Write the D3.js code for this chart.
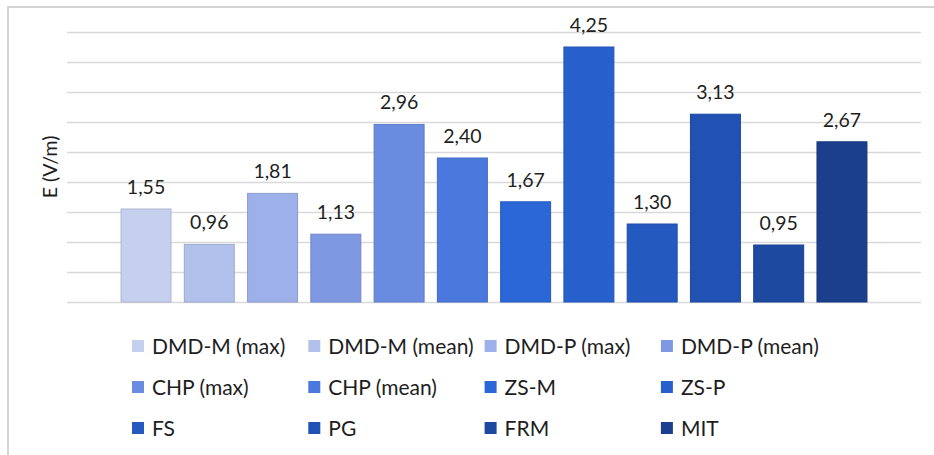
<!DOCTYPE html>
<html>
<head>
<meta charset="utf-8">
<script src="https://cdn.jsdelivr.net/npm/d3@7"></script>
<style>
  html, body { margin: 0; padding: 0; background: #fff; }
  svg { display: block; font-family: Lato, "Open Sans", sans-serif; }
</style>
</head>
<body>
<svg id="chart" width="934" height="455"></svg>
<script>
const categories = ["DMD-M (max)", "DMD-M (mean)", "DMD-P (max)", "DMD-P (mean)",
  "CHP (max)", "CHP (mean)", "ZS-M", "ZS-P", "FS", "PG", "FRM", "MIT"];
const values = [1.55, 0.96, 1.81, 1.13, 2.96, 2.40, 1.67, 4.25, 1.30, 3.13, 0.95, 2.67];
const valueLabels = ["1,55", "0,96", "1,81", "1,13", "2,96", "2,40", "1,67", "4,25", "1,30", "3,13", "0,95", "2,67"];
const colors = ["#C5D0EF", "#B2C1EC", "#9EB0E9", "#7F98E2", "#6A8CE0", "#4A78DC",
  "#2B67D6", "#2660CC", "#2459C0", "#2152B3", "#1E49A0", "#1B3F8C"];
const gridTicks = [0, 0.5, 1, 1.5, 2, 2.5, 3, 3.5, 4, 4.5];
const yTitle = "E (V/m)";

const svg = d3.select("#chart");

// frame (cropped chart border)
svg.append("rect").attr("x", 8).attr("y", 7).attr("width", 1200).attr("height", 1200)
  .attr("fill", "none").attr("stroke", "#d4d4d4").attr("stroke-width", 2);

const y = d3.scaleLinear().domain([0, 4.5]).range([302, 32]);
const x = d3.scaleBand().domain(categories).range([114.4, 873.6])
  .paddingInner(0.21).paddingOuter(0.105);

// gridlines
svg.append("g").selectAll("line").data(gridTicks).join("line")
  .attr("x1", 67).attr("x2", 921)
  .attr("y1", d => Math.round(y(d)) + 0.5).attr("y2", d => Math.round(y(d)) + 0.5)
  .attr("stroke", "#d9d9d9").attr("stroke-width", 1.5);

// bars
svg.append("g").selectAll("rect").data(categories).join("rect")
  .attr("x", d => x(d))
  .attr("y", (d, i) => y(values[i]))
  .attr("width", x.bandwidth())
  .attr("height", (d, i) => y(0) - y(values[i]))
  .attr("fill", (d, i) => colors[i])
  .attr("stroke", (d, i) => d3.color(colors[i]).darker(0.35))
  .attr("stroke-width", 1);

// value labels
svg.append("g").selectAll("text").data(categories).join("text")
  .attr("x", d => x(d) + x.bandwidth() / 2)
  .attr("y", (d, i) => y(values[i]) - 15)
  .attr("text-anchor", "middle")
  .attr("font-size", 19.5)
  .attr("fill", "#1e1e1e")
  .text((d, i) => valueLabels[i]);

// y title
svg.append("text")
  .attr("transform", "translate(57,167) rotate(-90)")
  .attr("text-anchor", "middle")
  .attr("font-size", 19.5)
  .attr("fill", "#1e1e1e")
  .text(yTitle);

// legend
const legend = svg.append("g").selectAll("g").data(categories).join("g")
  .attr("transform", (d, i) => `translate(${132 + (i % 4) * 176.3},${346 + Math.floor(i / 4) * 41})`);
legend.append("rect")
  .attr("x", 0).attr("y", -6).attr("width", 12).attr("height", 12)
  .attr("fill", (d, i) => colors[i]);
legend.append("text")
  .attr("x", 20).attr("y", 0).attr("dy", "0.36em")
  .attr("font-size", 21)
  .attr("fill", "#1e1e1e")
  .text(d => d);
</script>
</body>
</html>
